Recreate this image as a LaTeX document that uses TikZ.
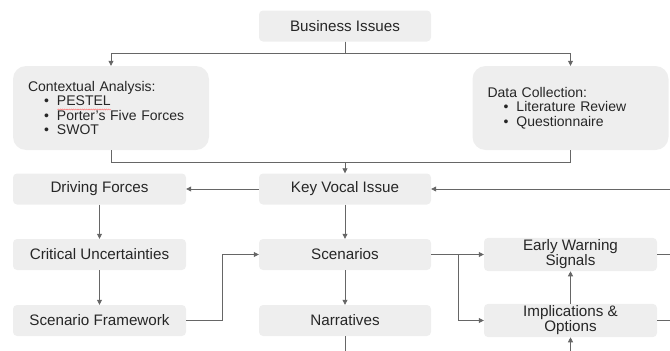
\documentclass[tikz,border=0pt]{standalone}
\usepackage{fontspec}
\setmainfont{Liberation Sans}
\usetikzlibrary{arrows.meta,decorations.pathmorphing}
\definecolor{boxfill}{HTML}{EEEEEE}
\definecolor{linegray}{HTML}{666666}
\definecolor{txt}{HTML}{262626}
\newcommand{\itembul}[1]{\hspace*{16pt}\makebox[13pt][l]{\textbullet}#1}
\begin{document}
\begin{tikzpicture}[x=1pt,y=-1pt,
  every node/.style={text=txt},
  stepbox/.style={fill=boxfill, rounded corners=4pt, minimum width=172pt, minimum height=31pt, inner sep=2pt, align=center, font=\fontsize{15.2}{15}\selectfont},
  bigbox/.style={fill=boxfill, rounded corners=13pt, minimum width=196pt, minimum height=84pt, inner xsep=15pt, text width=166pt, align=left, font=\fontsize{14}{14.6}\selectfont},
  conn/.style={draw=linegray, line width=0.8pt},
  arr/.style={conn, -{Triangle[length=5pt,width=5pt]}}]
\useasboundingbox (0,0) rectangle (670,351);

% boxes
\node[stepbox] (biz) at (345,26) {Business Issues};
\node[bigbox] (ctx) at (111,108) {Contextual Analysis:\\
  \itembul{PESTEL}\\ \itembul{Porter’s Five Forces}\\ \itembul{SWOT}};
\node[bigbox, minimum width=195pt] (data) at (570.5,108) {Data Collection:\\
  \itembul{Literature Review}\\ \itembul{Questionnaire}};
\node[stepbox] (kvi) at (345,189) {Key Vocal Issue};
\node[stepbox, minimum width=173pt] (df) at (99.5,189) {Driving Forces};
\node[stepbox, minimum width=173pt] (cu) at (99.5,254.5) {Critical Uncertainties};
\node[stepbox, minimum width=173pt] (sf) at (99.5,320.5) {Scenario Framework};
\node[stepbox] (sc) at (345,254.5) {Scenarios};
\node[stepbox] (nar) at (345,320.5) {Narratives};
\node[stepbox, minimum width=173pt] (ews) at (570.5,254.5) {Early Warning\\Signals};
\node[stepbox, minimum width=173pt] (imp) at (570.5,320.5) {Implications \&\\Options};

% spell-check underline
\draw[red!55, line width=0.45pt, decorate, decoration={snake, amplitude=0.55pt, segment length=2.2pt}] (57.5,109.5) -- (111,109.5);

% free ends at the border
\coordinate (inR) at (670,189);
\coordinate (merge) at (345,162);
\coordinate (outN) at (345,351);
\coordinate (inI) at (570.5,351);
\coordinate (outE) at (670,254.5);
\coordinate (outO) at (670,320.5);

% connectors
\draw[arr] (biz.south) -- ++(0,12) -| (ctx.north);
\draw[arr] (biz.south) -- ++(0,12) -| (data.north);
\draw[conn] (ctx.south) -- ++(0,12) -| (data.south);
\draw[arr] (merge) -- (kvi.north);
\draw[arr] (inR) -- (kvi.east);
\draw[arr] (kvi.west) -- (df.east);
\draw[arr] (df.south) -- (cu.north);
\draw[arr] (cu.south) -- (sf.north);
\draw[arr] (kvi.south) -- (sc.north);
\draw[arr] (sc.south) -- (nar.north);
\draw[arr] (sf.east) -- ++(36,0) |- (sc.west);
\draw[arr] (sc.east) -- (ews.west);
\draw[arr] (sc.east) -- ++(27,0) |- (imp.west);
\draw[arr] (imp.north) -- (ews.south);
\draw[arr] (inI) -- (imp.south);
\draw[conn] (nar.south) -- (outN);
\draw[conn] (ews.east) -- (outE);
\draw[conn] (imp.east) -- (outO);
\end{tikzpicture}
\end{document}
